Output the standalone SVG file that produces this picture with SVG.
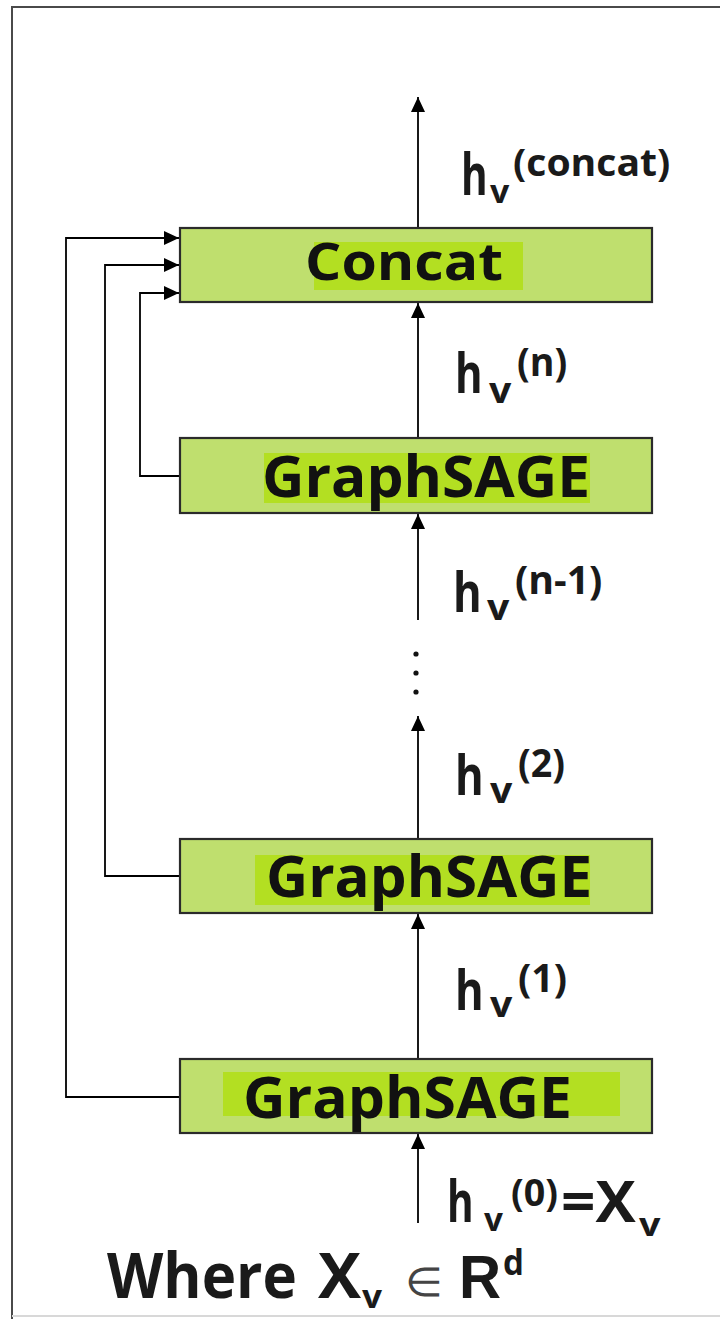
<svg xmlns="http://www.w3.org/2000/svg" width="720" height="1319" viewBox="0 0 720 1319">
  <defs>
    <marker id="arrow" markerUnits="userSpaceOnUse" markerWidth="16" markerHeight="14" refX="15" refY="7" orient="auto">
      <path d="M0,0 L15,7 L0,14 Z" fill="#000"/>
    </marker>
    <style>
      .box { fill: #bfdf6e; stroke: #2b2b2b; stroke-width: 2.2; }
      .hl { fill: #b3df22; }
      .name { font-family: "Open Sans", "Liberation Sans", sans-serif; font-weight: 700; fill: #111; }
      .lbl { font-family: "Open Sans", "Liberation Sans", sans-serif; font-weight: 700; fill: #1a1a1a; }
      .wire { fill: none; stroke: #000; stroke-width: 1.8; }
      .frame { fill: none; stroke: #4a4a4a; stroke-width: 2; }
    </style>
  </defs>

  <rect width="720" height="1319" fill="#fff"/>

  <!-- outer frame -->
  <path class="frame" d="M720,7 H12 V1319"/>
  <line x1="12" y1="1316" x2="720" y2="1316" stroke="#d8d8d8" stroke-width="2"/>

  <!-- connectors -->
  <g id="connectors">
    <line class="wire" x1="418" y1="228" x2="418" y2="97" marker-end="url(#arrow)"/>
    <line class="wire" x1="418" y1="438" x2="418" y2="303" marker-end="url(#arrow)"/>
    <line class="wire" x1="418" y1="620" x2="418" y2="514" marker-end="url(#arrow)"/>
    <line class="wire" x1="418" y1="839" x2="418" y2="716" marker-end="url(#arrow)"/>
    <line class="wire" x1="418" y1="1059" x2="418" y2="914" marker-end="url(#arrow)"/>
    <line class="wire" x1="418" y1="1223" x2="418" y2="1134" marker-end="url(#arrow)"/>
    <!-- skip paths into the concat block -->
    <path class="wire" d="M180,1097 H66 V238 H179" marker-end="url(#arrow)"/>
    <path class="wire" d="M180,876 H105 V265 H179" marker-end="url(#arrow)"/>
    <path class="wire" d="M180,476 H140 V293 H179" marker-end="url(#arrow)"/>
    <!-- ellipsis between layers -->
    <circle cx="416" cy="654" r="2.6" fill="#111"/>
    <circle cx="416" cy="673" r="2.6" fill="#111"/>
    <circle cx="416" cy="692" r="2.6" fill="#111"/>
  </g>

  <!-- nodes -->
  <g id="concat">
    <rect class="box" x="180" y="228" width="472" height="74"/>
    <rect class="hl" x="314" y="242" width="209" height="48"/>
    <text class="name" x="305" y="280" font-size="52" textLength="198" lengthAdjust="spacingAndGlyphs">Concat</text>
  </g>
  <g id="graphsage-n">
    <rect class="box" x="180" y="438" width="472" height="75"/>
    <rect class="hl" x="264" y="453" width="326" height="50"/>
    <text class="name" x="262" y="497" font-size="58" textLength="328" lengthAdjust="spacingAndGlyphs">GraphSAGE</text>
  </g>
  <g id="graphsage-2">
    <rect class="box" x="180" y="839" width="472" height="74"/>
    <rect class="hl" x="255" y="855" width="335" height="50"/>
    <text class="name" x="266" y="897" font-size="58" textLength="326" lengthAdjust="spacingAndGlyphs">GraphSAGE</text>
  </g>
  <g id="graphsage-1">
    <rect class="box" x="180" y="1059" width="472" height="74"/>
    <rect class="hl" x="223" y="1072" width="397" height="44"/>
    <text class="name" x="243" y="1118" font-size="57" textLength="329" lengthAdjust="spacingAndGlyphs">GraphSAGE</text>
  </g>

  <!-- embedding labels: h, subscript v, superscript layer index -->
  <g id="label-concat" class="lbl">
    <text font-size="58" transform="translate(461,195) scale(0.70,1)">h</text>
    <text font-size="32" transform="translate(490,203) scale(1.06,1)">v</text>
    <text font-size="38" transform="translate(513,176) scale(1.03,1)">(concat)</text>
  </g>
  <g id="label-n" class="lbl">
    <text font-size="56" transform="translate(455,393) scale(0.75,1)">h</text>
    <text font-size="36" transform="translate(489,403) scale(1.09,1)">v</text>
    <text font-size="40" transform="translate(517,376) scale(0.94,1)">(n)</text>
  </g>
  <g id="label-n-1" class="lbl">
    <text font-size="56" transform="translate(453,612) scale(0.78,1)">h</text>
    <text font-size="36" transform="translate(487,620) scale(1.09,1)">v</text>
    <text font-size="40" transform="translate(515,594) scale(0.98,1)">(n-1)</text>
  </g>
  <g id="label-2" class="lbl">
    <text font-size="56" transform="translate(455,795) scale(0.78,1)">h</text>
    <text font-size="36" transform="translate(490,803) scale(1.09,1)">v</text>
    <text font-size="40" transform="translate(518,777) scale(0.94,1)">(2)</text>
  </g>
  <g id="label-1" class="lbl">
    <text font-size="56" transform="translate(455,1010) scale(0.78,1)">h</text>
    <text font-size="36" transform="translate(490,1017) scale(1.09,1)">v</text>
    <text font-size="40" transform="translate(518,992) scale(0.98,1)">(1)</text>
  </g>
  <g id="label-0" class="lbl">
    <text font-size="58" transform="translate(447,1222) scale(0.70,1)">h</text>
    <text font-size="32" transform="translate(484,1231) scale(1.04,1)">v</text>
    <text font-size="38" transform="translate(511,1206) scale(0.99,1)">(0)</text>
    <text font-size="58" transform="translate(561,1222) scale(1.04,1)">=X</text>
    <text font-size="32" transform="translate(639,1236) scale(1.18,1)">v</text>
  </g>

  <!-- input domain note -->
  <g id="note" class="lbl">
    <text font-size="62" transform="translate(107,1298) scale(0.94,1)">Where</text>
    <text font-size="62" transform="translate(318,1298) scale(1.04,1)">X</text>
    <text font-size="32" transform="translate(362,1308) scale(1.1,1)">v</text>
    <text x="405" y="1296" font-size="40" font-weight="400" fill="#444" textLength="38" lengthAdjust="spacingAndGlyphs">∈</text>
    <text font-size="62" font-family="'Liberation Sans', sans-serif" transform="translate(459,1298) scale(0.94,1)">R</text>
    <text font-size="36" transform="translate(503,1275) scale(0.92,1)">d</text>
  </g>
</svg>
